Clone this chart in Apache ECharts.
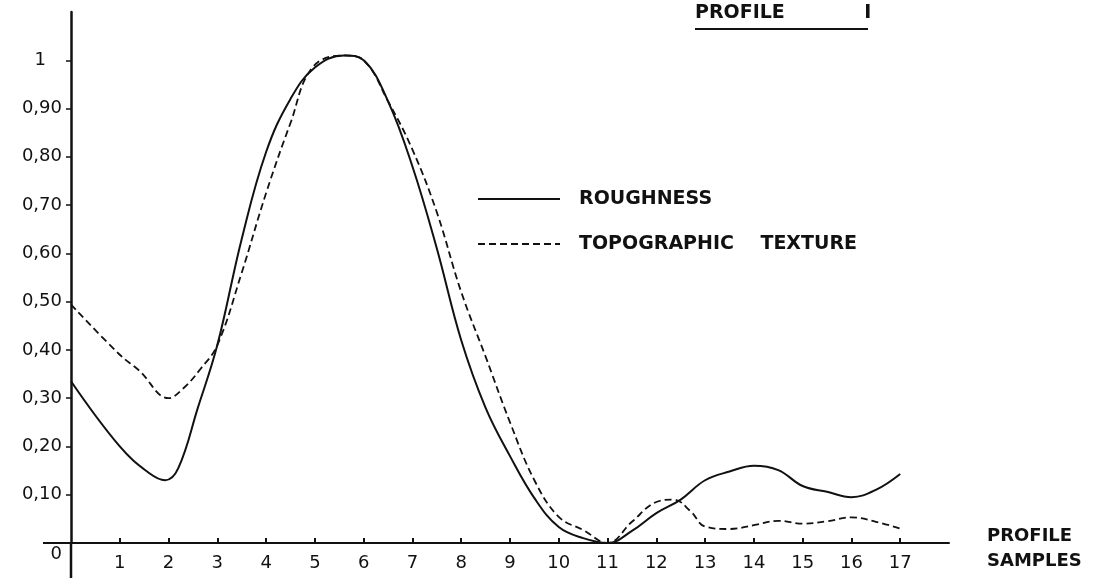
<!DOCTYPE html>
<html lang="en" style="height: 100%">
<head>
  <meta charset="utf-8">
</head>
<body style="height: 100%; margin: 0; background: #fff">
<div id="container" style="height: 100%"></div>

<script type="text/javascript" src="https://cdn.jsdelivr.net/npm/echarts@6/dist/echarts.min.js"></script>

<script type="text/javascript">
  // profile samples (x) and values
  var roughX = [0, 1, 1.6, 1.93, 2.2, 2.6, 3, 3.5, 4, 4.5, 5, 5.6, 6, 6.5, 7, 7.5, 8, 8.5, 9, 9.5, 10, 10.5, 11, 11.5, 12, 12.5, 13, 13.5, 14, 14.5, 15, 15.5, 16, 16.5, 17];
  var roughY = [0.335, 0.20, 0.145, 0.13, 0.155, 0.28, 0.41, 0.63, 0.81, 0.92, 0.985, 1.01, 1.0, 0.915, 0.78, 0.61, 0.42, 0.28, 0.18, 0.093, 0.033, 0.01, 0, 0.025, 0.062, 0.09, 0.13, 0.148, 0.16, 0.151, 0.118, 0.106, 0.095, 0.11, 0.143];

  var textureX = [0, 1, 1.4, 2, 2.3, 2.65, 3, 3.5, 4, 4.5, 4.95, 5.6, 6, 6.5, 7, 7.5, 8, 8.5, 9, 9.5, 10, 10.5, 11, 11.5, 12, 12.35, 12.7, 13, 13.5, 14, 14.5, 15, 15.5, 16, 16.5, 17];
  var textureY = [0.494, 0.39, 0.357, 0.30, 0.32, 0.36, 0.41, 0.56, 0.725, 0.87, 0.985, 1.01, 1.0, 0.915, 0.815, 0.685, 0.52, 0.386, 0.25, 0.13, 0.054, 0.027, 0, 0.044, 0.085, 0.09, 0.066, 0.034, 0.029, 0.037, 0.046, 0.04, 0.045, 0.053, 0.044, 0.03];

  var xTicks = [1, 2, 3, 4, 5, 6, 7, 8, 9, 10, 11, 12, 13, 14, 15, 16, 17];
  var yTicks = [0, 0.1, 0.2, 0.3, 0.4, 0.5, 0.6, 0.7, 0.8, 0.9, 1];
  var yTickLabels = ['0', '0,10', '0,20', '0,30', '0,40', '0,50', '0,60', '0,70', '0,80', '0,90', '1'];

  var seriesNames = ['ROUGHNESS', 'TOPOGRAPHIC    TEXTURE'];
  var xAxisTitle = 'PROFILE\nSAMPLES';

  function pairs(xs, ys) {
    var out = [];
    for (var i = 0; i < xs.length; i++) out.push([xs[i], ys[i]]);
    return out;
  }

  var ink = '#111';
  var font = 'DejaVu Sans';

  var dom = document.getElementById('container');
  var myChart = echarts.init(dom, null, { renderer: 'canvas' });

  var option = {
    animation: false,
    backgroundColor: '#fff',
    title: {
      text: 'PROFILE            I',
      left: 695,
      top: 4,
      padding: 0,
      textStyle: { fontFamily: font, fontSize: 19, fontWeight: 'bold', color: ink }
    },
    legend: {
      orient: 'vertical',
      left: 472,
      top: 184,
      itemWidth: 82,
      itemHeight: 14,
      itemGap: 25,
      data: seriesNames,
      itemStyle: { color: 'rgba(0,0,0,0)', borderWidth: 0 },
      textStyle: { fontFamily: font, fontSize: 19, fontWeight: 'bold', color: ink, padding: [0, 0, 0, 14], lineHeight: 20 }
    },
    grid: { left: 71, right: 156, top: 12, bottom: 37, containLabel: false, outerBoundsMode: 'none' },
    xAxis: {
      type: 'value',
      min: 0,
      max: 18,
      axisLine: { onZero: false, lineStyle: { color: ink, width: 2 } },
      axisTick: { show: true, inside: true, length: 5, customValues: xTicks, lineStyle: { color: ink, width: 2 } },
      axisLabel: { customValues: xTicks, margin: 11, fontFamily: font, fontSize: 18, color: ink },
      splitLine: { show: false }
    },
    yAxis: {
      type: 'value',
      min: 0,
      max: 1.1,
      axisLine: { onZero: false, lineStyle: { color: ink, width: 2.5 } },
      axisTick: { show: true, inside: false, length: 5, customValues: yTicks.slice(1), lineStyle: { color: ink, width: 1.5 } },
      axisLabel: {
        customValues: yTicks,
        margin: 9,
        fontFamily: font,
        fontSize: 18,
        color: ink,
        formatter: function (v) {
          for (var i = 0; i < yTicks.length; i++) {
            if (Math.abs(v - yTicks[i]) < 1e-6) {
              if (i === 0) return '{zero|' + yTickLabels[i] + '}';
              if (i === yTicks.length - 1) return '{one|' + yTickLabels[i] + '}';
              return yTickLabels[i];
            }
          }
          return '';
        },
        rich: {
          zero: { fontFamily: font, fontSize: 18, color: ink, padding: [22, 0, 0, 0] },
          one: { fontFamily: font, fontSize: 18, color: ink, padding: [0, 16, 0, 0] }
        }
      },
      splitLine: { show: false }
    },
    series: [
      {
        name: seriesNames[0],
        type: 'line',
        data: pairs(roughX, roughY),
        smooth: 0.4,
        symbol: 'none',
        lineStyle: { color: ink, width: 2, type: 'solid' },
        itemStyle: { color: ink }
      },
      {
        name: seriesNames[1],
        type: 'line',
        data: pairs(textureX, textureY),
        smooth: 0.4,
        symbol: 'none',
        lineStyle: { color: ink, width: 1.8, type: [7, 4] },
        itemStyle: { color: ink }
      }
    ]
  };

  myChart.setOption(option);

  // title underline, axis title, and the short axis overhangs past the origin
  var o = myChart.convertToPixel({ gridIndex: 0 }, [0, 0]);
  var xEnd = myChart.convertToPixel({ gridIndex: 0 }, [18, 0]);
  myChart.setOption({
    graphic: [
      { type: 'line', shape: { x1: 695, y1: 29, x2: 868, y2: 29 }, style: { stroke: ink, lineWidth: 2 } },
      { type: 'line', shape: { x1: o[0], y1: o[1], x2: o[0], y2: 578 }, style: { stroke: ink, lineWidth: 2.5 } },
      { type: 'line', shape: { x1: 43, y1: o[1], x2: o[0], y2: o[1] }, style: { stroke: ink, lineWidth: 2 } },
      {
        type: 'text',
        x: xEnd[0] + 38,
        y: xEnd[1] - 19,
        style: { text: xAxisTitle, font: 'bold 18px ' + font, fill: ink, lineHeight: 25, align: 'left', verticalAlign: 'top' }
      }
    ]
  });

  window.addEventListener('resize', myChart.resize);
</script>
</body>
</html>
